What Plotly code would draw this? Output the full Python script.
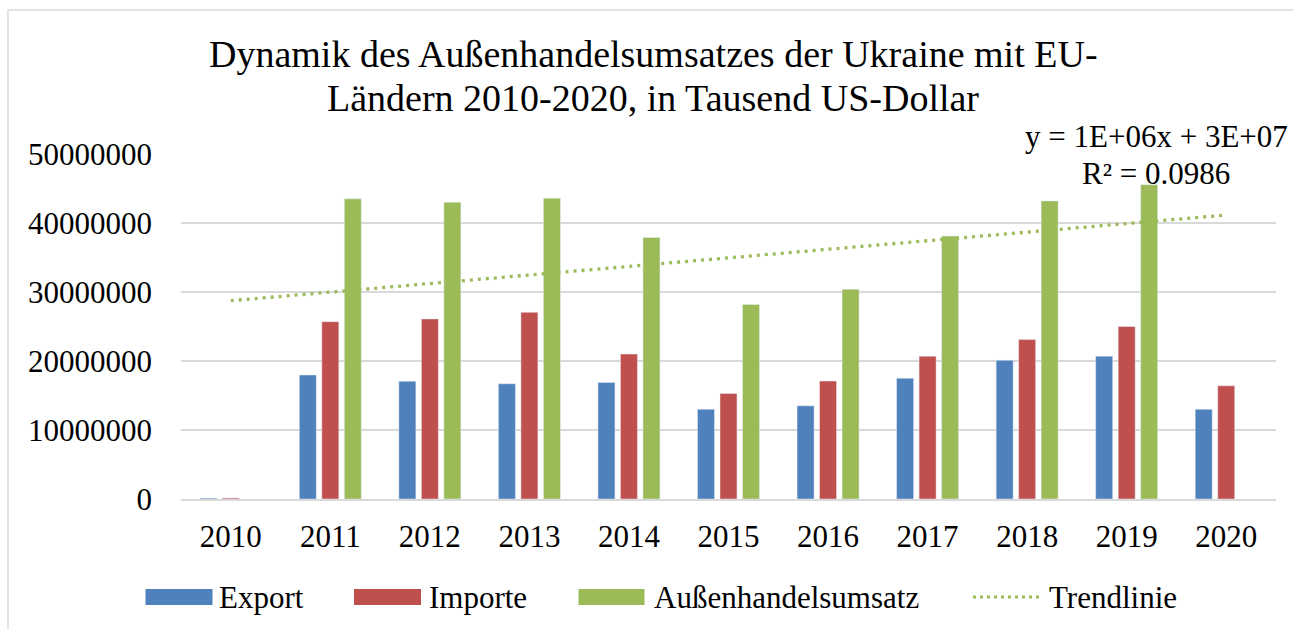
import plotly.graph_objects as go

years = ["2010", "2011", "2012", "2013", "2014", "2015", "2016", "2017", "2018", "2019", "2020"]
export = [120000, 17970000, 17060000, 16700000, 16900000, 13000000, 13500000, 17500000, 20100000, 20700000, 13000000]
importe = [150000, 25700000, 26100000, 27060000, 21000000, 15300000, 17100000, 20700000, 23100000, 25000000, 16400000]
umsatz = [None, 43500000, 43000000, 43600000, 37900000, 28200000, 30400000, 38100000, 43200000, 45550000, None]
trend_years = ["2010", "2020"]
trend_values = [28740000, 41160000]

title_lines = ["Dynamik des Außenhandelsumsatzes der Ukraine mit EU-",
               "Ländern 2010-2020, in Tausend US-Dollar"]
trend_label = ["y = 1E+06x + 3E+07", "R² = 0.0986"]
legend_names = ["Export", "Importe", "Außenhandelsumsatz", "Trendlinie"]

BLUE, RED, GREEN = "#4F81BD", "#C0504D", "#9BBB59"
FONT = "Liberation Serif, Times New Roman, serif"

W, H = 1293, 629
L, R, T, B = 181, 17, 154, 130
PW, PH = W - L - R, H - T - B


def px(x):
    return (x - L) / PW


def py(y):
    return (H - B - y) / PH


fig = go.Figure()
fig.add_trace(go.Bar(x=years, y=export, name=legend_names[0], marker_color=BLUE, showlegend=False))
fig.add_trace(go.Bar(x=years, y=importe, name=legend_names[1], marker_color=RED, showlegend=False))
fig.add_trace(go.Bar(x=years, y=umsatz, name=legend_names[2], marker_color=GREEN, showlegend=False))
fig.add_trace(go.Scatter(x=trend_years, y=trend_values, mode="lines", name=legend_names[3],
                         line=dict(color=GREEN, width=3.3, dash="3px,5px"), showlegend=False))

shapes = []
annotations = []

# outer chart border (only left/top visible in reference)
shapes.append(dict(type="rect", xref="paper", yref="paper",
                   x0=px(8), x1=px(1310), y0=py(10), y1=py(650),
                   line=dict(color="#D9D9D9", width=1.5), fillcolor="rgba(0,0,0,0)", layer="below"))

# title (two lines, Excel-like tight spacing)
for line, yc in zip(title_lines, [54, 98]):
    annotations.append(dict(text=line, xref="paper", yref="paper", x=px(653), y=py(yc),
                            xanchor="center", yanchor="middle", showarrow=False,
                            font=dict(family=FONT, size=38, color="black")))

# trendline label
for line, yc in zip(trend_label, [136, 173]):
    annotations.append(dict(text=line, xref="paper", yref="paper", x=px(1156), y=py(yc),
                            xanchor="center", yanchor="middle", showarrow=False,
                            font=dict(family=FONT, size=31, color="black")))

# custom legend
ly = 597
for (x0, x1, col) in [(145.5, 212.5, BLUE), (354, 421, RED), (578.5, 644.5, GREEN)]:
    shapes.append(dict(type="rect", xref="paper", yref="paper", x0=px(x0), x1=px(x1),
                       y0=py(ly + 8), y1=py(ly - 8), fillcolor=col, line=dict(width=0)))
shapes.append(dict(type="line", xref="paper", yref="paper", x0=px(973), x1=px(1043),
                   y0=py(ly), y1=py(ly), line=dict(color=GREEN, width=3, dash="3px,4px")))
for name, xl in zip(legend_names, [217, 427, 652, 1047]):
    annotations.append(dict(text=name, xref="paper", yref="paper", x=px(xl), y=py(ly),
                            xanchor="left", yanchor="middle", showarrow=False,
                            font=dict(family=FONT, size=31, color="black")))

fig.update_layout(
    width=W, height=H,
    margin=dict(l=L, r=R, t=T, b=B),
    paper_bgcolor="white", plot_bgcolor="white",
    barmode="group", bargap=0.322, bargroupgap=0.244,
    font=dict(family=FONT, size=31, color="black"),
    showlegend=False,
    shapes=shapes, annotations=annotations,
    xaxis=dict(type="category", showgrid=False, showline=True, linecolor="#D9D9D9", linewidth=1.5,
               ticks="", tickfont=dict(family=FONT, size=31, color="black"), ticklabelstandoff=9,
               zeroline=False),
    yaxis=dict(range=[0, 50000000], dtick=10000000, tick0=0, tickformat="d",
               showgrid=True, gridcolor="#D9D9D9", gridwidth=1.5, zeroline=False,
               showline=False, ticks="", tickfont=dict(family=FONT, size=31, color="black"),
               ticklabelstandoff=28),
)

fig.write_html("out.html")
